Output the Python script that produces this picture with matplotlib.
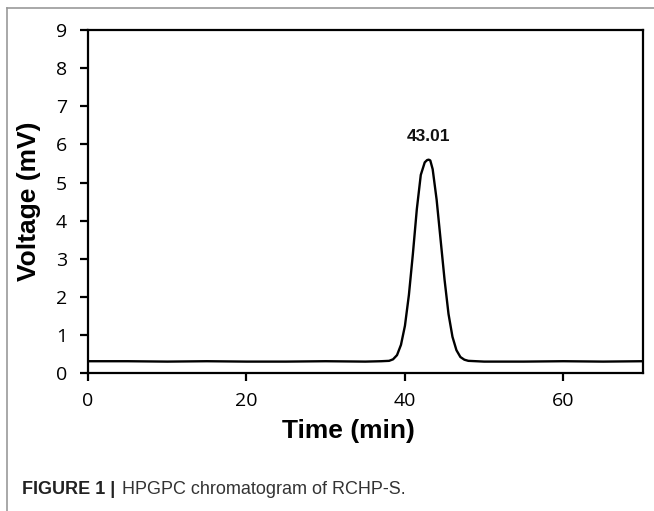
import matplotlib
matplotlib.use('Agg')
import matplotlib.pyplot as plt
from matplotlib.lines import Line2D

# Chromatogram
time_min = [0, 5, 10, 15, 20, 25, 30, 35, 37, 38, 38.5, 39, 39.5, 40, 40.5,
            41, 41.5, 42, 42.5, 42.8, 43.0, 43.2, 43.5, 44, 44.5, 45, 45.5, 46, 46.5, 47,
            47.5, 48, 50, 55, 60, 65, 70]
voltage_mv = [0.31, 0.31, 0.30, 0.31, 0.30, 0.30, 0.31, 0.30, 0.31, 0.32, 0.36, 0.47, 0.74, 1.24, 2.05,
              3.12, 4.30, 5.20, 5.53, 5.59, 5.60, 5.58, 5.35, 4.55, 3.50, 2.45, 1.55, 0.95, 0.60, 0.42,
              0.35, 0.32, 0.30, 0.30, 0.31, 0.30, 0.31]
peak_time = 43.01
peak_label = '43.01'
x_ticks = [0, 20, 40, 60]
y_ticks = list(range(0, 10))

fig = plt.figure(figsize=(6.54, 5.11), dpi=100)
ax = fig.add_axes([0.1346, 0.270, 0.848, 0.671])

ax.plot(time_min, voltage_mv, color='black', linewidth=1.7)
ax.text(peak_time, 6.2, peak_label, ha='center', va='center',
        fontsize=12.5, fontweight='bold', family='Liberation Sans', color='#111111')

ax.set_xlim(0, 70)
ax.set_ylim(0, 9)
ax.set_xticks(x_ticks)
ax.set_yticks(y_ticks)
for s in ax.spines.values():
    s.set_linewidth(1.6)
ax.tick_params(direction='out', length=6, width=1.6, labelsize=14)
ax.tick_params(axis='x', pad=8)
ax.tick_params(axis='y', pad=9)
for lbl in ax.get_xticklabels() + ax.get_yticklabels():
    lbl.set_family('Open Sans')

ax.set_xlabel('Time (min)', fontsize=19, fontweight='bold', family='Liberation Sans')
ax.xaxis.set_label_coords(0.47, -0.135)
ax.set_ylabel('Voltage (mV)', fontsize=19, fontweight='bold', family='Liberation Sans')
ax.yaxis.set_label_coords(-0.085, 0.5)

# outer frame of the figure panel
fig.add_artist(Line2D([7/654, 1], [1 - 8/511, 1 - 8/511], color='#999999', lw=1.2))
fig.add_artist(Line2D([7/654, 7/654], [0, 1 - 8/511], color='#999999', lw=1.2))

cap_font = ['Liberation Sans Narrow', 'Liberation Sans']
fig.text(22/654, 1 - 490/511, 'FIGURE 1 |', fontsize=13, fontweight='bold',
         family=cap_font, va='center', color='#222222')
fig.text(122/654, 1 - 490/511, 'HPGPC chromatogram of RCHP-S.', fontsize=13,
         family=cap_font, va='center', color='#333333')

fig.savefig('out.png', dpi=100)
